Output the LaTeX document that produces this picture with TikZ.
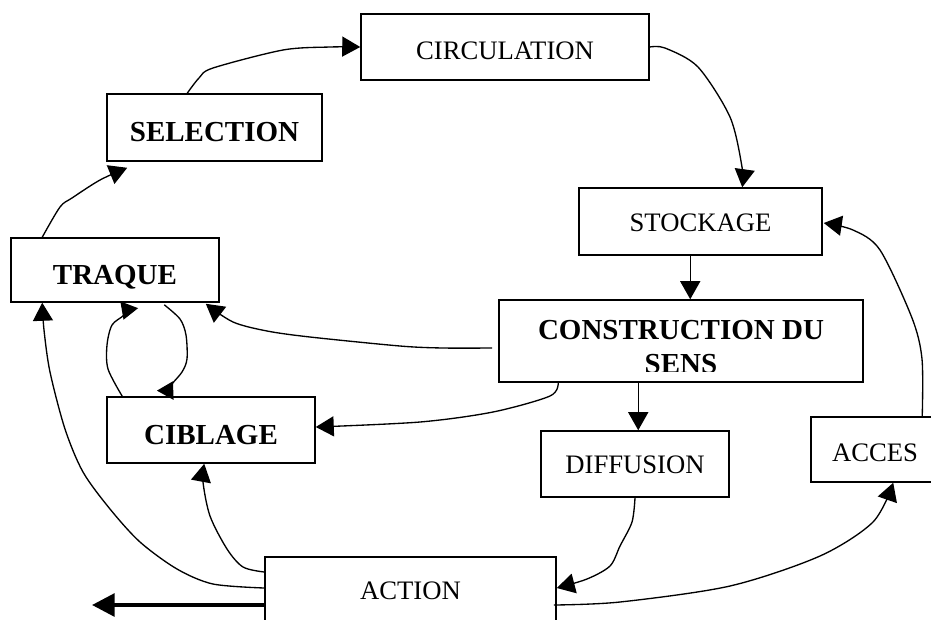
\documentclass[tikz,border=0pt]{standalone}
\usepackage{fontspec}
\setmainfont{Liberation Serif}
\usetikzlibrary{arrows.meta,calc}
\begin{document}
\begin{tikzpicture}[x=0.75pt,y=-0.75pt,
  box/.style={draw, line width=1.15pt, rectangle, inner sep=0pt, text depth=0pt,
    font=\fontsize{20}{24}\selectfont},
  bbox/.style={box, font=\fontsize{21.75}{25.5}\selectfont\bfseries},
  blbl/.style={inner sep=0pt, align=center, font=\fontsize{21.75}{25.5}\selectfont\bfseries},
  con/.style={line width=1pt, -{Triangle[length=13.5pt,width=15pt]}},
  rcon/.style={line width=1pt, -{Triangle[reversed,length=12pt,width=14pt]}},
  bigarrow/.style={line width=3pt, -{Triangle[length=17pt,width=17pt]}}]
\useasboundingbox (0,0) rectangle (931,619);
\clip (0,0) rectangle (931,619);

% boxes
\node[box, minimum width=216pt, minimum height=49.5pt, text height=19.1pt] (circ) at (505,47) {CIRCULATION};
\node[bbox, minimum width=161.25pt, minimum height=50.25pt, text height=21pt] (sel) at (214.5,127.5) {SELECTION};
\node[box, minimum width=182.25pt, minimum height=50.25pt, text height=14.6pt] (stock) at (700.5,221.5) {STOCKAGE};
\node[bbox, minimum width=156pt, minimum height=48pt, text height=21.75pt] (trq) at (115,270) {TRAQUE};
\node[box, minimum width=273pt, minimum height=61.5pt] (cons) at (681,341) {};
\begin{scope}
  \clip (499,300) rectangle (863,371);
  \node[blbl, anchor=north] (consT) at (681,320) {CONSTRUCTION DU\\SENS};
\end{scope}
\node[bbox, minimum width=156pt, minimum height=49.5pt, text height=21pt] (cib) at (211,430) {CIBLAGE};
\node[box, minimum width=141pt, minimum height=49.5pt, text height=14.6pt] (diff) at (635,464) {DIFFUSION};
\node[box, minimum width=96pt, minimum height=48.75pt, text height=18.35pt] (acc) at (875,449.5) {ACCES};
\node[box, minimum width=218.25pt, minimum height=49.5pt, text height=13.85pt] (act) at (410.5,590) {ACTION};

% connectors
\draw[con] plot[smooth] coordinates {($(trq.north west)+(32,0)$) (60,207) (72,198) (100,180) ($(sel.south west)+(21,6)$)};
\draw[con] plot[smooth] coordinates {($(sel.north west)+(81,0)$) (199,78) (213,68) (283,50) (330,47) (circ.west)};
\draw[con] plot[smooth] coordinates {(circ.east) (665,48) (698,67) (730,117) (742,167) ($(stock.north west)+(164,0)$)};
\draw[con] ($(stock.south west)+(112,0)$) -- ($(cons.north west)+(192,0)$);
\draw[con] plot[smooth] coordinates {($(cons.west)+(-6,7)$) (443,348) (400,346) (310,337) (267,331) (233,322) ($(trq.south east)+(-14,1)$)};
\draw[con] plot[smooth] coordinates {($(cons.south west)+(60,0)$) (550,396) (493,412) (420,422) ($(cib.east)+(0,-3)$)};
\draw[con] ($(cons.south west)+(140,0)$) -- ($(diff.north west)+(98,0)$);
\draw[con] plot[smooth] coordinates {(diff.south) (632,522) (620,546) (610,566) (587,579) ($(act.east)+(0,-2)$)};
\draw[con] plot[smooth] coordinates {($(act.east)+(-3,15)$) (620,602) (730,586) (820,556) (873,522) ($(acc.south west)+(83,0)$)};
\draw[con] plot[smooth] coordinates {($(acc.north west)+(112,0)$) (922,359) (912,318) (880,250) (853,230) ($(stock.east)+(1,1.5)$)};
\draw[con] plot[smooth] coordinates {($(act.west)+(0,-18)$) (243,567) (227,549) (210,516) (203,482) ($(cib.south west)+(98,0)$)};
\draw[con] plot[smooth] coordinates {($(act.west)+(0,-2)$) (213,584) (177,569) (140,542) (110,509) (83,472) (65,429) (50,372) (44,330) ($(trq.south west)+(32,0)$)};
\draw[rcon] plot[smooth] coordinates {($(cib.north west)+(16,0)$) (108,369) (107,345) (112,325) (124,315) ($(trq.south west)+(119,2)$)};
\draw[rcon] plot[smooth] coordinates {($(trq.south west)+(154,2)$) (180,319) (186,335) (187,359) (182,372) (172,384) ($(cib.north west)+(59,-1)$)};
\coordinate (exit) at (92,605);
\draw[bigarrow] ($(act.west)+(0,15)$) -- (exit);
\end{tikzpicture}
\end{document}
